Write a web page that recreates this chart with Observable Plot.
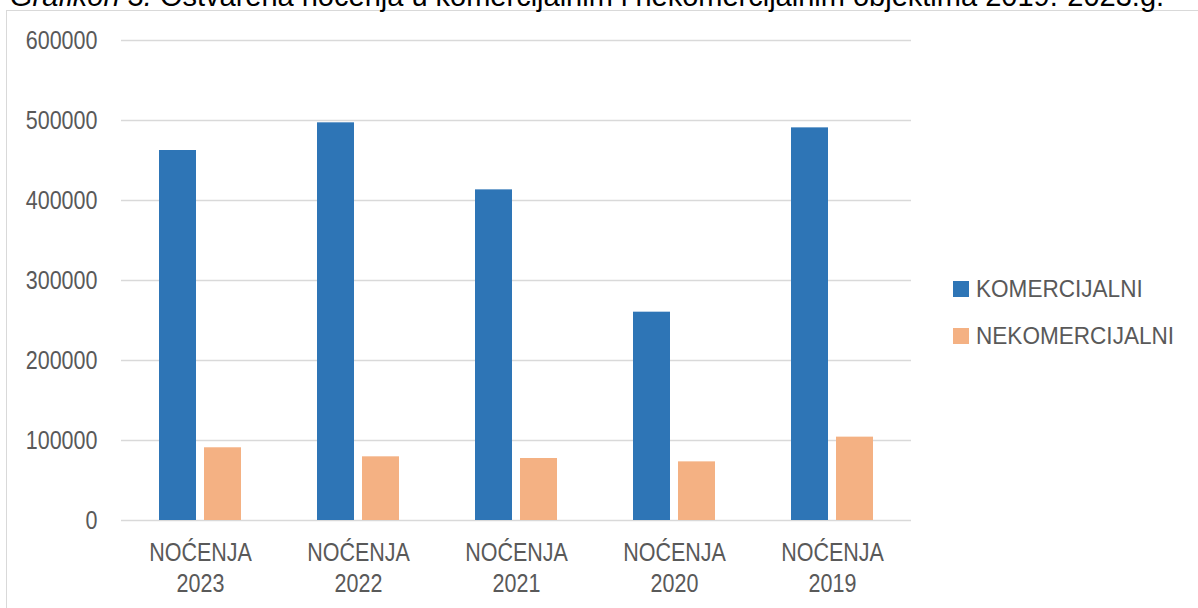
<!DOCTYPE html>
<html><head><meta charset="utf-8">
<script src="https://cdn.jsdelivr.net/npm/d3@7"></script>
<script src="https://cdn.jsdelivr.net/npm/@observablehq/plot@0.6"></script>
<style>
html,body{margin:0;padding:0;background:#fff;overflow:hidden;width:1198px;height:608px;}
#wrap{position:relative;width:1198px;height:608px;overflow:hidden;}
#title{position:absolute;left:10px;top:-20px;font-size:29px;line-height:32px;font-family:"Liberation Sans",Arial,sans-serif;color:#000;white-space:nowrap;}
#frame{position:absolute;left:6px;top:10px;width:1400px;height:800px;border:1.5px solid #d9d9d9;box-sizing:border-box;}
#chart{position:absolute;left:0;top:0;}
#legend{position:absolute;left:953px;top:273px;font-family:"Liberation Sans","Arial Narrow",sans-serif;font-size:23.5px;color:#595959;}
.item{display:flex;align-items:center;height:32px;margin-bottom:15px;white-space:nowrap;}
.sw{width:16px;height:16px;margin-right:7px;flex:none;}
.lt{display:inline-block;transform:scaleX(0.96);transform-origin:left center;}
</style></head>
<body><div id="wrap">
<div id="frame"></div>
<div id="title"><i>Grafikon 3.</i> Ostvarena noćenja u komercijalnim i nekomercijalnim objektima 2019.-2023.g.</div>
<div id="chart"></div>
<div id="legend"></div>
</div>
<script>
const years = ["2023", "2022", "2021", "2020", "2019"];
const series = ["KOMERCIJALNI", "NEKOMERCIJALNI"];
const komercijalni = [462500, 497100, 413300, 260400, 490800];
const nekomercijalni = [90900, 79600, 77500, 73300, 104200];
const yTicks = [0, 100000, 200000, 300000, 400000, 500000, 600000];
const colors = ["#2E75B6", "#F4B183"];

const data = years.flatMap((y, i) => [
  {year: y, series: series[0], value: komercijalni[i]},
  {year: y, series: series[1], value: nekomercijalni[i]}
]);

const font = '"Liberation Sans",Arial,sans-serif';
const chart = Plot.plot({
  width: 1198, height: 608,
  marginLeft: 120, marginRight: 286, marginTop: 40, marginBottom: 88,
  style: {fontFamily: font, fontSize: "25px", color: "#595959", background: "transparent", overflow: "visible"},
  fx: {domain: years, padding: 0, label: null, axis: null},
  x: {domain: series, paddingInner: 0.176, paddingOuter: 0.829, axis: null},
  y: {domain: [0, 600000], axis: null},
  color: {domain: series, range: colors},
  marks: [
    Plot.ruleY(yTicks, {stroke: "#d9d9d9", strokeWidth: 1.5}),
    Plot.barY(data, {fx: "year", x: "series", y: "value", fill: "series"}),
    Plot.axisY({anchor: "left", ticks: yTicks, tickSize: 0, tickPadding: 24, tickFormat: d => String(d), label: null, fill: "#595959", fontSize: 25}),
    Plot.axisFx({anchor: "bottom", tickSize: 0, tickPadding: 19, lineHeight: 1.22, tickFormat: d => "NOĆENJA\n" + d, label: null, fill: "#595959", fontSize: 25})
  ]
});
document.getElementById("chart").append(chart);

// condense axis text to mimic a narrow face
chart.querySelectorAll("text").forEach(t => {
  const spans = t.querySelectorAll("tspan");
  const els = spans.length ? Array.from(spans) : [t];
  els.forEach(el => {
    const w = el.getComputedTextLength();
    if (w > 0) {
      el.setAttribute("textLength", (w * 0.86).toFixed(2));
      el.setAttribute("lengthAdjust", "spacingAndGlyphs");
    }
  });
});

const legend = document.getElementById("legend");
series.forEach((s, i) => {
  const it = document.createElement("div");
  it.className = "item";
  const sw = document.createElement("span");
  sw.className = "sw";
  sw.style.background = colors[i];
  const t = document.createElement("span");
  t.className = "lt";
  t.textContent = s;
  it.append(sw, t);
  legend.append(it);
});
</script>
</body></html>
